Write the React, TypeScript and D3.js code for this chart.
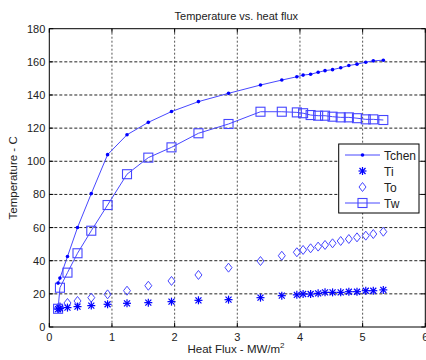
import React from "react";
import * as d3 from "d3";

const heatFlux = [0.14, 0.17, 0.29, 0.45, 0.67, 0.93, 1.24, 1.58, 1.95, 2.38, 2.86, 3.37, 3.71, 3.95, 4.05, 4.17, 4.29, 4.4, 4.52, 4.65, 4.78, 4.91, 5.05, 5.17, 5.33];
const tchen = [26.5, 29.5, 42.5, 60, 80.5, 104, 116, 123.5, 130, 136, 141, 146, 149, 151, 152, 152.5, 153.7, 154.7, 155.3, 156.4, 157.8, 158.6, 159.8, 160.6, 161];
const ti = [10.8, 11.2, 11.7, 12.3, 12.9, 13.7, 14.3, 14.7, 15.3, 16.1, 16.5, 17.7, 18.9, 19.4, 19.9, 19.9, 20.3, 20.9, 20.9, 20.9, 21.3, 21.3, 21.9, 21.9, 22.4];
const to = [11.5, 12, 14.5, 15.7, 17.7, 19.7, 21.9, 24.9, 27.8, 31.4, 35.8, 39.8, 43, 45.1, 46.5, 47.5, 48.5, 49.5, 50.5, 51.9, 53.1, 54.1, 55.1, 56.1, 57.5];
const tw = [11, 23.7, 32.8, 44.5, 58.1, 73.6, 92.2, 102.2, 108.4, 116.9, 122.5, 129.9, 129.9, 129.5, 129, 127.9, 127.5, 127.5, 126.9, 126.5, 126.5, 126, 125.3, 125.3, 124.9];

const xTicks = [0, 1, 2, 3, 4, 5, 6];
const yTicks = [0, 20, 40, 60, 80, 100, 120, 140, 160, 180];
const legendLabels = ["Tchen", "Ti", "To", "Tw"];

const W = 426;
const H = 360;
const left = 49.3;
const right = 425.3;
const top = 28.7;
const bottom = 327;
const font = "Liberation Sans, Arial, sans-serif";
const blue = "#0000ff";
const lineBlue = "#4848ff";
const lightBlue = "#4646ff";

const Star = ({ x, y }: { x: number; y: number }) => (
  <g stroke={blue} strokeWidth={1.2}>
    <line x1={x - 4} y1={y} x2={x + 4} y2={y} />
    <line x1={x} y1={y - 4} x2={x} y2={y + 4} />
    <line x1={x - 3} y1={y - 3} x2={x + 3} y2={y + 3} />
    <line x1={x - 3} y1={y + 3} x2={x + 3} y2={y - 3} />
  </g>
);

const Diamond = ({ x, y }: { x: number; y: number }) => (
  <path d={`M${x},${y - 4.5}L${x + 3.5},${y}L${x},${y + 4.5}L${x - 3.5},${y}Z`} fill="none" stroke={lightBlue} strokeWidth={1} />
);

const Square = ({ x, y }: { x: number; y: number }) => (
  <rect x={x - 4.5} y={y - 4.5} width={9} height={9} fill="none" stroke={lightBlue} strokeWidth={1.1} />
);

export default function App() {
  const x = d3.scaleLinear().domain([0, 6]).range([left, right]);
  const y = d3.scaleLinear().domain([0, 180]).range([bottom, top]);
  const line = d3
    .line<number>()
    .x((_, i) => x(heatFlux[i]))
    .y((d) => y(d));

  const lx = 338.7;
  const ly = 144;
  const rowY = (i: number) => ly + 11 + i * 16;

  return (
    <svg width={W} height={H} style={{ position: "absolute", left: 0, top: 0, background: "#fff" }} fontFamily={font}>
      <rect x={0} y={0} width={W} height={H} fill="#fff" />
      <rect x={left} y={top} width={right - left} height={bottom - top} fill="#fff" />
      {/* grid */}
      {xTicks.slice(1, -1).map((t) => (
        <line key={"gx" + t} x1={x(t)} x2={x(t)} y1={top} y2={bottom} stroke="#555" strokeDasharray="2,2" strokeWidth={1} />
      ))}
      {yTicks.slice(1, -1).map((t) => (
        <line key={"gy" + t} x1={left} x2={right} y1={y(t)} y2={y(t)} stroke="#222" strokeDasharray="3,2" strokeWidth={1} />
      ))}
      {/* ticks */}
      {xTicks.map((t) => (
        <g key={"tx" + t}>
          <line x1={x(t)} x2={x(t)} y1={bottom} y2={bottom - 4} stroke="#000" />
          <line x1={x(t)} x2={x(t)} y1={top} y2={top + 4} stroke="#000" />
          <text x={x(t)} y={bottom + 14} fontSize={11} textAnchor="middle" fill="#222">{t}</text>
        </g>
      ))}
      {yTicks.map((t) => (
        <g key={"ty" + t}>
          <line x1={left} x2={left + 4} y1={y(t)} y2={y(t)} stroke="#000" />
          <line x1={right} x2={right - 4} y1={y(t)} y2={y(t)} stroke="#000" />
          <text x={left - 4} y={y(t) + 4} fontSize={11} textAnchor="end" fill="#222">{t}</text>
        </g>
      ))}
      <rect x={left} y={top} width={right - left} height={bottom - top} fill="none" stroke="#000" strokeWidth={1} />

      {/* series */}
      <path d={line(tw) || ""} fill="none" stroke={lineBlue} strokeWidth={1} />
      {tw.map((d, i) => (
        <Square key={"tw" + i} x={x(heatFlux[i])} y={y(d)} />
      ))}
      {to.map((d, i) => (
        <Diamond key={"to" + i} x={x(heatFlux[i])} y={y(d)} />
      ))}
      {ti.map((d, i) => (
        <Star key={"ti" + i} x={x(heatFlux[i])} y={y(d)} />
      ))}
      <path d={line(tchen) || ""} fill="none" stroke={lineBlue} strokeWidth={1} />
      {tchen.map((d, i) => (
        <circle key={"tc" + i} cx={x(heatFlux[i])} cy={y(d)} r={1.8} fill={blue} />
      ))}

      {/* legend */}
      <rect x={lx} y={ly} width={80.3} height={69} fill="#fff" stroke="#000" strokeWidth={1} />
      <line x1={345} x2={380} y1={rowY(0)} y2={rowY(0)} stroke={lineBlue} />
      <circle cx={362.5} cy={rowY(0)} r={1.8} fill={blue} />
      <Star x={362.5} y={rowY(1)} />
      <Diamond x={362.5} y={rowY(2)} />
      <line x1={345} x2={380} y1={rowY(3)} y2={rowY(3)} stroke={lineBlue} />
      <Square x={362.5} y={rowY(3)} />
      {legendLabels.map((l, i) => (
        <text key={l} x={384} y={rowY(i) + 4.5} fontSize={12} fill="#222">{l}</text>
      ))}

      {/* labels */}
      <text x={(left + right) / 2 - 1} y={20} fontSize={11} textAnchor="middle" fill="#222">Temperature vs. heat flux</text>
      <text x={236} y={353} fontSize={11.5} textAnchor="middle" fill="#222">
        Heat Flux - MW/m<tspan fontSize={8} dy={-5}>2</tspan>
      </text>
      <text transform={`translate(17,${(top + bottom) / 2}) rotate(-90)`} fontSize={11.5} textAnchor="middle" fill="#222">Temperature - C</text>
    </svg>
  );
}
